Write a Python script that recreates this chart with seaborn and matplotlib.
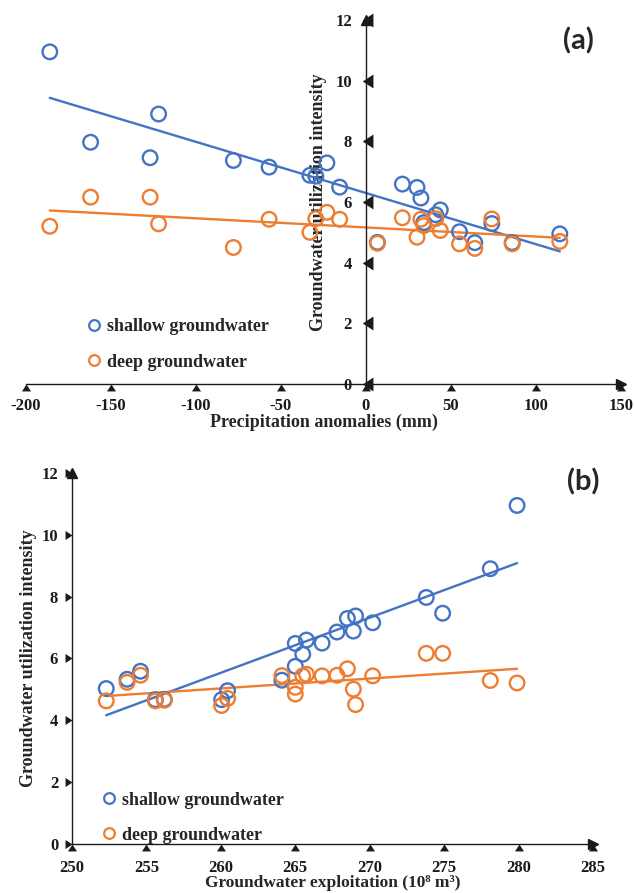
import matplotlib
matplotlib.use("Agg")
import numpy as np
import pandas as pd
import matplotlib.pyplot as plt
import seaborn as sns
from matplotlib.path import Path
from matplotlib.markers import MarkerStyle
from matplotlib.lines import Line2D

# ---------------- data ----------------
precip = [-186, -162, -127, -122, -78, -57, -33, -29.5, -23, -15.5, 6.7,
          21.4, 30, 32.3, 34, 41, 43.7, 55, 64, 74, 86, 114]
exploit = [279.9, 273.8, 274.9, 278.1, 269.05, 270.2, 268.9, 267.8, 268.5,
           266.8, 256.2, 265.75, 265.0, 265.5, 253.7, 254.6, 265.0, 252.3,
           260.05, 264.1, 255.6, 260.45]
shallow = [10.95, 7.97, 7.46, 8.9, 7.37, 7.15, 6.88, 6.85, 7.29, 6.49, 4.67,
           6.59, 6.48, 6.13, 5.32, 5.58, 5.74, 5.02, 4.66, 5.29, 4.66, 4.95]
deep = [5.2, 6.16, 6.16, 5.28, 4.5, 5.43, 5.0, 5.45, 5.66, 5.43, 4.64,
        5.48, 4.84, 5.43, 5.22, 5.45, 5.06, 4.62, 4.47, 5.44, 4.62, 4.7]

series_labels = ["shallow groundwater", "deep groundwater"]
series_colors = ["#4472C4", "#ED7D31"]
xticks_a = [-200, -150, -100, -50, 0, 50, 100, 150]
xticks_b = [250, 255, 260, 265, 270, 275, 280, 285]
yticks = [0, 2, 4, 6, 8, 10, 12]
xlabel_a = "Precipitation anomalies (mm)"
xlabel_b = "Groundwater exploitation (10\u2078 m\u00b3)"
ylabel = "Groundwater utilization intensity"
panel_tags = ["(a)", "(b)"]

df = pd.DataFrame({"precip": precip, "exploit": exploit,
                   "shallow": shallow, "deep": deep})

# ---------------- style ----------------
sns.set_theme(style="white")
plt.rcParams["font.family"] = ["Liberation Serif", "DejaVu Serif"]
plt.rcParams["font.weight"] = "bold"
plt.rcParams["axes.labelweight"] = "bold"
plt.rcParams["axes.unicode_minus"] = False

fig = plt.figure(figsize=(6.34, 8.93), dpi=100)
ax_a = fig.add_axes([0.041, 0.570, 0.9385, 0.4076])
ax_b = fig.add_axes([0.1136, 0.0554, 0.8217, 0.4149])


def tri(verts):
    return MarkerStyle(Path(verts + [verts[0]],
                            [Path.MOVETO, Path.LINETO, Path.LINETO, Path.CLOSEPOLY]))


tri_up_below = tri([(-0.65, -1.0), (0.65, -1.0), (0.0, 0.0)])
tri_left_mid = tri([(-0.35, 0.0), (0.65, 0.65), (0.65, -0.65)])
tri_right_left = tri([(-1.0, 0.65), (-1.0, -0.65), (0.0, 0.0)])


def draw_panel(ax, xcol):
    for col, color in zip(["shallow", "deep"], series_colors):
        sns.regplot(data=df, x=xcol, y=col, ax=ax, ci=None, truncate=True,
                    color=color,
                    scatter_kws=dict(facecolors="none", s=110, linewidths=1.7,
                                     alpha=1, zorder=3),
                    line_kws=dict(lw=1.7, zorder=2))


def tick_marks(ax, xt, xpos, xm, yt, ypos, ym):
    ax.plot(xt, [xpos] * len(xt), ls="none", marker=xm, ms=10, mfc="k",
            mew=0, clip_on=False, zorder=5)
    ax.plot([ypos] * len(yt), yt, ls="none", marker=ym, ms=10, mfc="k",
            mew=0, clip_on=False, zorder=5)


def base_axes(ax):
    for s in ["top", "right"]:
        ax.spines[s].set_visible(False)
    for s in ["left", "bottom"]:
        ax.spines[s].set_color("k")
        ax.spines[s].set_linewidth(1.0)


# ---------------- panel (a) ----------------
draw_panel(ax_a, "precip")
ax_a.set_xlim(xticks_a[0], xticks_a[-1])
ax_a.set_ylim(yticks[0], yticks[-1])
ax_a.set_xticks(xticks_a)
ax_a.set_yticks(yticks)
base_axes(ax_a)
ax_a.spines["left"].set_position(("data", 0))
ax_a.tick_params(axis="x", length=0, pad=10, labelsize=12, colors="k")
ax_a.tick_params(axis="y", length=0, pad=10, labelsize=12, colors="k")
tick_marks(ax_a, xticks_a, 0, tri_up_below, yticks, 0, tri_left_mid)
ax_a.set_xlabel(xlabel_a, fontsize=13, labelpad=0)
ax_a.set_ylabel(ylabel, fontsize=13, labelpad=6)
ax_a.plot(1, 0, marker=">", ms=7, color="k", transform=ax_a.get_yaxis_transform(), clip_on=False)
ax_a.plot(0, 1, marker="^", ms=7, color="k", transform=ax_a.get_xaxis_transform(), clip_on=False)

# ---------------- panel (b) ----------------
draw_panel(ax_b, "exploit")
ax_b.set_xlim(xticks_b[0], xticks_b[-1])
ax_b.set_ylim(yticks[0], yticks[-1])
ax_b.set_xticks(xticks_b)
ax_b.set_yticks(yticks)
base_axes(ax_b)
ax_b.tick_params(axis="x", length=0, pad=12, labelsize=12, colors="k")
ax_b.tick_params(axis="y", length=0, pad=10, labelsize=12, colors="k")
tick_marks(ax_b, xticks_b, 0, tri_up_below, yticks, xticks_b[0], tri_right_left)
ax_b.set_xlabel(xlabel_b, fontsize=12.5, labelpad=-1)
ax_b.set_ylabel(ylabel, fontsize=13, labelpad=3)
ax_b.plot(1, 0, marker=">", ms=7, color="k", transform=ax_b.transAxes, clip_on=False)
ax_b.plot(0, 1, marker="^", ms=7, color="k", transform=ax_b.transAxes, clip_on=False)

# ---------------- legends ----------------
handles = [Line2D([], [], marker="o", ls="none", mfc="none", mec=c, ms=7.7, mew=1.6)
           for c in series_colors]
for ax, anchor in [(ax_a, (0.134, 0.6142)), (ax_b, (0.158, 0.0845))]:
    ax.legend(handles, series_labels, loc="center left", bbox_to_anchor=anchor,
              bbox_transform=fig.transFigure, frameon=False, borderpad=0,
              borderaxespad=0, handlelength=1.0, handletextpad=0.2,
              labelspacing=1.0, prop=dict(family=["Liberation Serif"],
                                          weight="bold", size=13))

# ---------------- panel tags ----------------
fig.text(0.912, 1 - 41 / 893, panel_tags[0], ha="center", va="center",
         fontsize=21, fontweight="bold", family=["Lato", "DejaVu Sans"])
fig.text(0.920, 1 - 482 / 893, panel_tags[1], ha="center", va="center",
         fontsize=21, fontweight="bold", family=["Lato", "DejaVu Sans"])

fig.savefig("out.png", dpi=100)
